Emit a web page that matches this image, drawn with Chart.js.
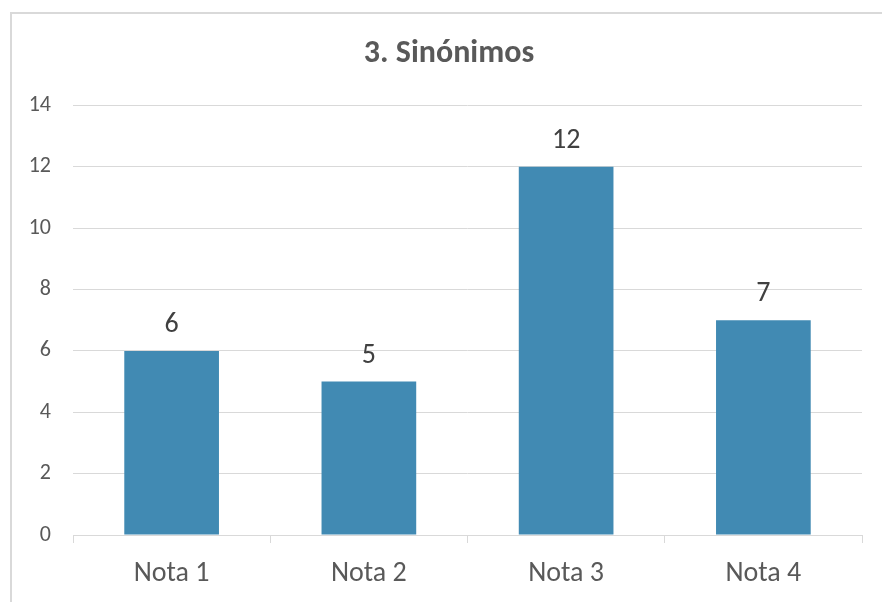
<!DOCTYPE html>
<html>
<head>
<meta charset="utf-8">
<script src="https://cdn.jsdelivr.net/npm/chart.js@4.4.1/dist/chart.umd.min.js"></script>
<style>
  body { margin: 0; background: #fff; overflow: hidden; }
  #frame { position: absolute; left: 10px; top: 12px; width: 900px; height: 700px; border: 2px solid #d9d9d9; }
  #wrap { position: absolute; left: 0; top: 0; width: 882px; height: 602px; }
</style>
</head>
<body>
<div id="frame"></div>
<div id="wrap"><canvas id="sinonimosChart"></canvas></div>
<script>
/*---- datos ----- */
var categorias = ["Nota 1", "Nota 2", "Nota 3", "Nota 4"];
var valores = [6, 5, 12, 7];
var tituloTexto = "3. Sinónimos";
var yMin = 0, yMax = 14, yPaso = 2;

var fuente = "Carlito, Lato, 'Liberation Sans', sans-serif";

/*---- etiquetas encima de las barras ----- */
var etiquetasBarras = {
    id: 'etiquetasBarras',
    afterDatasetsDraw: function (chart) {
        var ctx = chart.ctx;
        var meta = chart.getDatasetMeta(0);
        ctx.save();
        ctx.font = "28px " + fuente;
        ctx.fillStyle = "#404040";
        ctx.textAlign = "center";
        ctx.textBaseline = "alphabetic";
        meta.data.forEach(function (bar, i) {
            ctx.fillText(String(valores[i]), bar.x, bar.y - 19);
        });
        ctx.restore();
    }
};

/*---- titulo un poco a la derecha ----- */
var moverTitulo = {
    id: 'moverTitulo',
    afterLayout: function (chart) {
        if (chart.titleBlock) {
            chart.titleBlock.left += 18;
            chart.titleBlock.right += 18;
        }
    }
};

var ctx = document.getElementById('sinonimosChart').getContext('2d');
var sinonimosChart = new Chart(ctx, {
    type: 'bar',
    data: {
        labels: categorias,
        datasets: [{
            label: " ",
            backgroundColor: "#418AB3",
            borderWidth: 0,
            categoryPercentage: 1,
            barPercentage: 0.48,
            data: valores
        }]
    },
    options: {
        responsive: true,
        maintainAspectRatio: false,
        animation: false,
        layout: { padding: { left: 0, right: 20, top: 0, bottom: 0 } },
        plugins: {
            legend: { display: false },
            tooltip: { enabled: false },
            title: {
                display: true,
                text: tituloTexto,
                color: "#595959",
                font: { family: fuente, size: 32, weight: 'bold', lineHeight: 1.2 },
                padding: { top: 35, bottom: 32 }
            }
        },
        scales: {
            x: {
                offset: true,
                grid: { drawOnChartArea: false, drawTicks: true, tickLength: 8, offset: true, color: "#d9d9d9", lineWidth: 1 },
                border: { color: "#d9d9d9", width: 1 },
                ticks: { color: "#595959", font: { family: fuente, size: 28 }, padding: 14, maxRotation: 0 },
                afterFit: function (scale) { scale.height = 67; }
            },
            y: {
                min: yMin,
                max: yMax,
                grid: { color: "#d9d9d9", lineWidth: 1, drawTicks: false },
                border: { display: false },
                ticks: { stepSize: yPaso, color: "#595959", font: { family: fuente, size: 22 }, padding: 22 },
                afterFit: function (scale) { scale.width = 73; }
            }
        }
    },
    plugins: [etiquetasBarras, moverTitulo]
});
</script>
</body>
</html>
